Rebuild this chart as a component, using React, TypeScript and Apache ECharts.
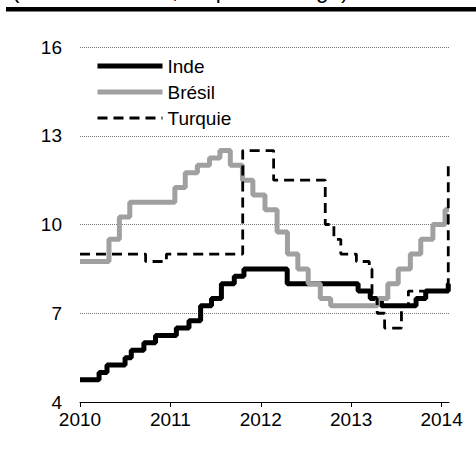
import React, { useEffect, useRef } from "react";
import * as echarts from "echarts";

// Policy rates (%), value effective from the given date
const indeDates = [
  "2010-01-01", "2010-03-19", "2010-04-20", "2010-07-02", "2010-07-27", "2010-09-16", "2010-11-02",
  "2011-01-25", "2011-03-17", "2011-05-03", "2011-06-16", "2011-07-26", "2011-09-16", "2011-10-25",
  "2012-04-17", "2013-01-29", "2013-03-19", "2013-05-03", "2013-09-20", "2013-10-29", "2014-01-28",
];
const indeRates = [
  4.75, 5.0, 5.25, 5.5, 5.75, 6.0, 6.25,
  6.5, 6.75, 7.25, 7.5, 8.0, 8.25, 8.5,
  8.0, 7.75, 7.5, 7.25, 7.5, 7.75, 8.0,
];

const bresilDates = [
  "2010-01-01", "2010-04-28", "2010-06-09", "2010-07-21",
  "2011-01-19", "2011-03-02", "2011-04-20", "2011-06-08", "2011-07-20", "2011-08-31", "2011-10-19", "2011-11-30",
  "2012-01-18", "2012-03-07", "2012-04-18", "2012-05-30", "2012-07-11", "2012-08-29", "2012-10-10",
  "2013-04-17", "2013-05-29", "2013-07-10", "2013-08-28", "2013-10-09", "2013-11-27", "2014-01-15",
];
const bresilRates = [
  8.75, 9.5, 10.25, 10.75,
  11.25, 11.75, 12.0, 12.25, 12.5, 12.0, 11.5, 11.0,
  10.5, 9.75, 9.0, 8.5, 8.0, 7.5, 7.25,
  7.5, 8.0, 8.5, 9.0, 9.5, 10.0, 10.5,
];

const turquieDates = [
  "2010-01-01", "2010-09-23", "2010-12-16", "2011-10-20",
  "2012-02-22", "2012-09-18", "2012-10-23", "2012-11-20",
  "2013-01-22", "2013-03-15", "2013-03-26", "2013-04-16", "2013-05-16", "2013-07-23", "2013-08-20",
  "2014-01-28",
];
const turquieRates = [
  9.0, 8.75, 9.0, 12.5,
  11.5, 10.0, 9.5, 9.0,
  8.75, 8.5, 7.5, 7.0, 6.5, 7.25, 7.75,
  12.0,
];

const endDate = "2014-01-31";
const yearTicks = [2010, 2011, 2012, 2013, 2014];
const yTicks = [4, 7, 10, 13, 16];
const seriesNames = ["Inde", "Brésil", "Turquie"];
const headerText = "(Taux directeurs, en pourcentage)";

function toYear(d: string): number {
  const [y, m, day] = d.split("-").map(Number);
  const start = Date.UTC(y, 0, 1);
  const t = Date.UTC(y, m - 1, day);
  const len = Date.UTC(y + 1, 0, 1) - start;
  return y + (t - start) / len;
}

function buildSteps(dates: string[], rates: number[]): [number, number][] {
  const pts: [number, number][] = dates.map((d, i) => [toYear(d), rates[i]]);
  pts.push([toYear(endDate), rates[rates.length - 1]]);
  return pts;
}

const FONT = "Liberation Sans, Arial, sans-serif";
const GRAY = "#a0a0a0";
const DASH = [10, 6];

export default function App() {
  const ref = useRef<HTMLDivElement>(null);
  useEffect(() => {
    if (!ref.current) return;
    const chart = echarts.init(ref.current, undefined, { renderer: "svg" });
    const xMax = toYear(endDate);
    chart.setOption({
      animation: false,
      backgroundColor: "#ffffff",
      textStyle: { fontFamily: FONT },
      graphic: [
        {
          type: "text",
          left: 12,
          top: -21,
          style: { text: headerText, font: `22.5px ${FONT}`, fill: "#000" },
        },
        {
          type: "rect",
          shape: { x: 6, y: 7, width: 470, height: 4.5 },
          style: { fill: "#000" },
        },
      ],
      grid: { left: 80, right: 27, top: 47, bottom: 56 },
      legend: {
        orient: "vertical",
        left: 90,
        top: 51,
        itemWidth: 65,
        itemHeight: 20,
        itemGap: 6,
        itemStyle: { opacity: 0 },
        textStyle: { fontSize: 19, fontFamily: FONT, color: "#000", lineHeight: 20 },
        data: [
          { name: seriesNames[0], lineStyle: { width: 5, color: "#000" } },
          { name: seriesNames[1], lineStyle: { width: 5, color: GRAY } },
          { name: seriesNames[2], lineStyle: { width: 2.8, color: "#000", type: DASH } },
        ],
      },
      xAxis: {
        type: "value",
        min: 2010,
        max: xMax,
        splitLine: { show: false },
        axisLine: { show: true, lineStyle: { color: "#000", width: 1 } },
        axisTick: { show: true, length: 5, lineStyle: { color: "#000" }, customValues: yearTicks },
        axisLabel: {
          fontSize: 19,
          color: "#000",
          fontFamily: FONT,
          margin: 8,
          customValues: yearTicks,
          formatter: (v: number) => String(Math.round(v)),
        },
      },
      yAxis: {
        type: "value",
        min: 4,
        max: 16,
        interval: 3,
        axisLine: { show: false },
        axisTick: { show: false },
        axisLabel: { fontSize: 19, color: "#000", fontFamily: FONT, margin: 18, customValues: yTicks },
        splitLine: { show: true, lineStyle: { color: "#777", type: [1, 1], width: 1 } },
      },
      series: [
        {
          name: seriesNames[0],
          type: "line",
          step: "end",
          symbol: "none",
          data: buildSteps(indeDates, indeRates),
          lineStyle: { color: "#000", width: 5 },
          itemStyle: { color: "#000" },
          z: 2,
        },
        {
          name: seriesNames[1],
          type: "line",
          step: "end",
          symbol: "none",
          data: buildSteps(bresilDates, bresilRates),
          lineStyle: { color: GRAY, width: 5 },
          itemStyle: { color: GRAY },
          z: 3,
        },
        {
          name: seriesNames[2],
          type: "line",
          step: "end",
          symbol: "none",
          data: buildSteps(turquieDates, turquieRates),
          lineStyle: { color: "#000", width: 2.8, type: DASH },
          itemStyle: { color: "#000" },
          z: 4,
        },
      ],
    });
    return () => chart.dispose();
  }, []);
  return <div ref={ref} style={{ width: 476, height: 458, position: "absolute", left: 0, top: 0 }} />;
}
